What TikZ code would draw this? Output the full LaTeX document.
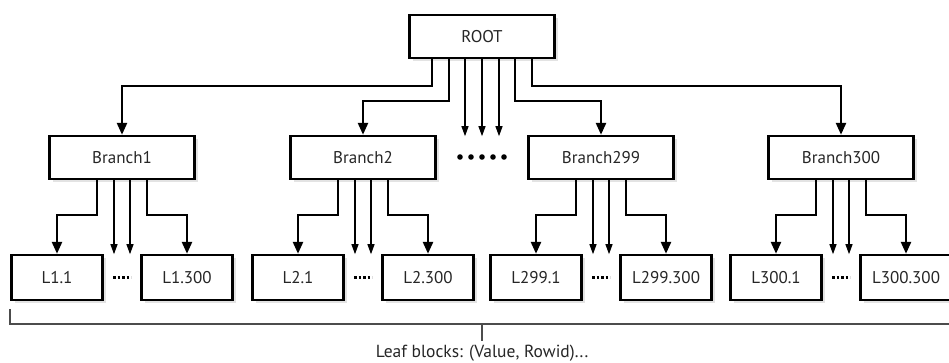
\documentclass[tikz,border=0pt]{standalone}
\usepackage{fontspec}
\setmainfont{PT Sans}
\usetikzlibrary{arrows.meta,shadows,calc}

\begin{document}
\begin{tikzpicture}[x=1pt,y=-1pt,line join=miter,
  box/.style={draw,line width=2.4pt,fill=white,minimum width=145pt,minimum height=43pt,inner sep=0pt,
    font=\fontsize{17}{19}\selectfont,text=black!85,drop shadow={opacity=0.22,shadow xshift=3pt,shadow yshift=-3pt}},
  leafbox/.style={box,minimum width=91pt,minimum height=45pt},
  thickarrow/.style={line width=2.5pt,-{Triangle[length=12pt,width=10pt]}},
  thinarrow/.style={line width=1.1pt,-{Triangle[length=10pt,width=7pt]}},
  bracket/.style={line width=1.8pt,draw=black!70}]
\useasboundingbox (0,0) rectangle (949,363);
% root and its children
\node[box] (root) at (482,36.5) {ROOT};
\foreach \n/\x in {1/122,2/363,299/601,300/841}{
  \node[box] (b\n) at (\x,157.5) {Branch\n};
  \node[leafbox] (lf\n) at (\x-65,277.5) {L\n.1};
  \node[leafbox] (ll\n) at (\x+65,277.5) {L\n.300};
  \draw[thickarrow] ([xshift=-25pt]b\n.south) -- ++(0,35) -| (lf\n.north);
  \draw[thickarrow] ([xshift=25pt]b\n.south) -- ++(0,35) -| (ll\n.north);
  \draw[thinarrow] ([xshift=-8pt]b\n.south) -- ++(0,74);
  \draw[thinarrow] ([xshift=8pt]b\n.south) -- ++(0,74);
  \draw[line width=2.2pt,dash pattern=on 2.5pt off 2pt] ($(lf\n.east)!0.5!(ll\n.west)$) ++(-9,0) -- ++(18,0);
}
\draw[thickarrow] ([xshift=-50pt]root.south) -- ++(0,27) -| (b1.north);
\draw[thickarrow] ([xshift=-33pt]root.south) -- ++(0,42) -| (b2.north);
\draw[thickarrow] ([xshift=33pt]root.south) -- ++(0,42) -| (b299.north);
\draw[thickarrow] ([xshift=50pt]root.south) -- ++(0,27) -| (b300.north);
\foreach \dx in {-17,0,17}
  \draw[thinarrow] ([xshift=\dx pt]root.south) -- ++(0,77);
\foreach \i in {-2,...,2}
  \fill (482+11*\i,157) circle (2.8pt);
% bracket under the leaves
\node[font=\fontsize{17.5}{19}\selectfont,text=black!85] (leafnote) at (482,353) {Leaf blocks: (Value, Rowid)...};
\draw[bracket] ([yshift=-8pt]lf1.south west) -- ++(0,15) -| ([yshift=-8pt]ll300.south east);
\draw[line width=1.2pt,black!70] (leafnote.north |- 0,323) -- (leafnote.north);
\end{tikzpicture}
\end{document}
